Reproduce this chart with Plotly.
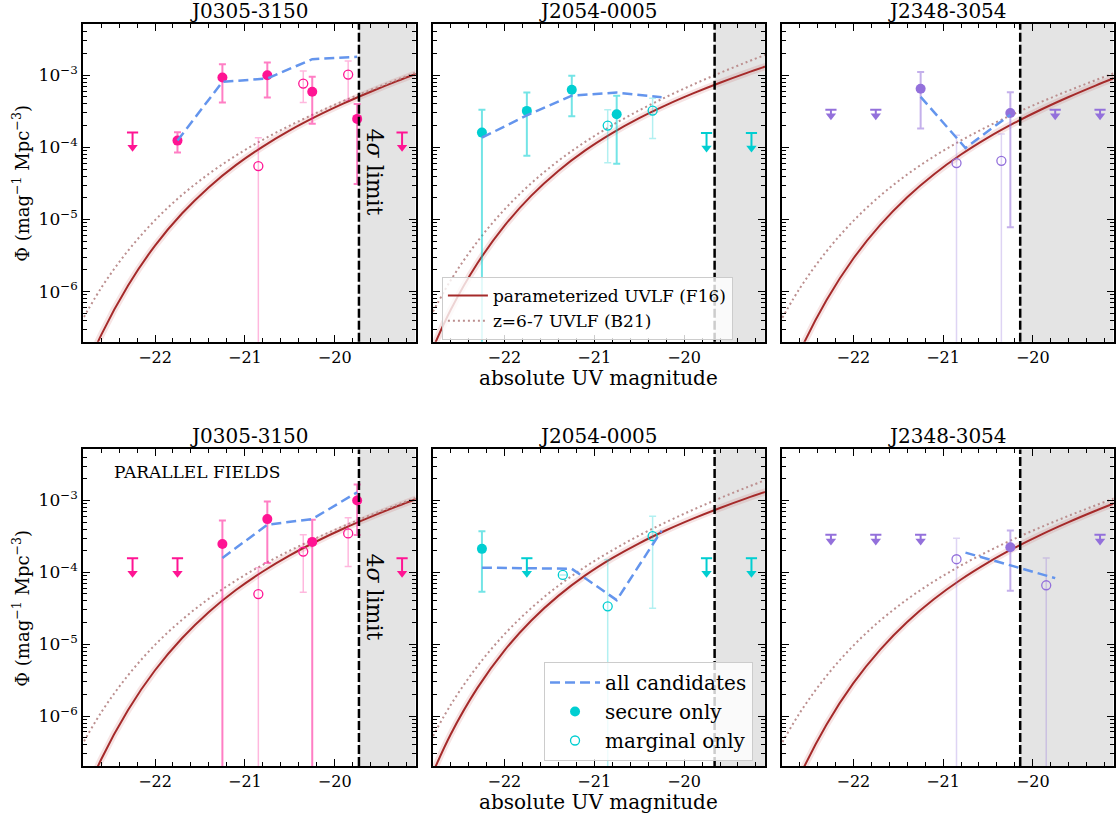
import plotly.graph_objects as go
from plotly.subplots import make_subplots

W, H = 1116, 817
FONT = "DejaVu Serif"

# ---------------- data ----------------
fields = ["J0305-3150", "J2054-0005", "J2348-3054"]
field_rgb = [(255, 20, 147), (0, 206, 209), (147, 112, 219)]
limit_mag = [-19.73, -19.66, -20.14]          # 4 sigma limit per field
x_range = [-22.8, -19.1]
y_range_log = [-6.695, -2.29]

# model curves (log10 Phi) read along the grid below
model_mag = [-22.9, -22.6, -22.3, -22.0, -21.7, -21.4, -21.1, -20.8, -20.5, -20.2, -19.9, -19.6, -19.3, -19.0]
f16_log_j0305 = [-7.478, -6.604, -5.915, -5.363, -4.918, -4.552, -4.247, -3.989, -3.765, -3.568, -3.391, -3.229, -3.078, -2.937]
f16_log_j2054 = [-7.087, -6.260, -5.608, -5.089, -4.670, -4.328, -4.043, -3.803, -3.596, -3.415, -3.253, -3.105, -2.968, -2.840]
f16_log_j2348 = [-7.759, -6.843, -6.120, -5.542, -5.075, -4.691, -4.372, -4.100, -3.865, -3.658, -3.472, -3.302, -3.144, -2.995]
b21_log_j0305 = [-6.597, -5.951, -5.433, -5.010, -4.661, -4.367, -4.115, -3.895, -3.699, -3.521, -3.357, -3.204, -3.059, -2.920]
b21_log_j2054 = [-6.525, -5.849, -5.306, -4.863, -4.497, -4.188, -3.924, -3.694, -3.488, -3.302, -3.130, -2.969, -2.817, -2.671]
b21_log_j2348 = [-6.607, -5.961, -5.443, -5.020, -4.671, -4.377, -4.125, -3.905, -3.709, -3.531, -3.367, -3.214, -3.069, -2.930]

# --- quasar fields (top row) ---
q0305_ul_x = [-22.25, -19.25]
q0305_ul = [1.6e-4, 1.6e-4]
q0305_sec_x = [-21.75, -21.25, -20.75, -20.25, -19.75]
q0305_sec_y = [1.24e-4, 9.3e-4, 1.0e-3, 5.9e-4, 2.48e-4]
q0305_sec_hi = [1.62e-4, 1.42e-3, 1.5e-3, 9.5e-4, 4.0e-4]
q0305_sec_lo = [8.5e-5, 4.2e-4, 4.9e-4, 2.13e-4, 3.1e-5]
q0305_mar_x = [-20.85, -20.35, -19.85]
q0305_mar_y = [5.5e-5, 7.66e-4, 1.02e-3]
q0305_mar_hi = [1.36e-4, 1.14e-3, 1.58e-3]
q0305_mar_lo = [1e-9, 4.2e-4, 4.5e-4]
q0305_all_x = [-21.75, -21.25, -20.75, -20.25, -19.75]
q0305_all_y = [1.24e-4, 8.1e-4, 9.0e-4, 1.67e-3, 1.8e-3]

q2054_ul_x = [-19.75, -19.25]
q2054_ul = [1.58e-4, 1.58e-4]
q2054_sec_x = [-22.25, -21.75, -21.25, -20.75]
q2054_sec_y = [1.6e-4, 3.2e-4, 6.3e-4, 2.87e-4]
q2054_sec_hi = [3.33e-4, 5.75e-4, 9.8e-4, 5.17e-4]
q2054_sec_lo = [1e-9, 7.66e-5, 2.7e-4, 5.9e-5]
q2054_mar_x = [-20.85, -20.35]
q2054_mar_y = [2.0e-4, 3.23e-4]
q2054_mar_hi = [3.33e-4, 4.8e-4]
q2054_mar_lo = [6.1e-5, 1.33e-4]
q2054_all_x = [-22.25, -21.75, -21.25, -20.75, -20.25]
q2054_all_y = [1.36e-4, 2.78e-4, 5.2e-4, 5.75e-4, 4.95e-4]

q2348_ul_x = [-22.25, -21.75, -19.75, -19.25]
q2348_ul = [3.33e-4, 3.33e-4, 3.33e-4, 3.33e-4]
q2348_sec_x = [-21.25, -20.25]
q2348_sec_y = [6.5e-4, 3.0e-4]
q2348_sec_hi = [1.11e-3, 5.8e-4]
q2348_sec_lo = [1.82e-4, 7.8e-6]
q2348_mar_x = [-20.85, -20.35]
q2348_mar_y = [6.05e-5, 6.5e-5]
q2348_mar_hi = [1.47e-4, 1.53e-4]
q2348_mar_lo = [1e-9, 1e-9]
q2348_all_x = [-21.25, -20.75, -20.25]
q2348_all_y = [5.0e-4, 9.8e-5, 2.84e-4]

# --- parallel fields (bottom row) ---
p0305_ul_x = [-22.25, -21.75, -19.25]
p0305_ul = [1.57e-4, 1.57e-4, 1.57e-4]
p0305_sec_x = [-21.25, -20.75, -20.25, -19.75]
p0305_sec_y = [2.48e-4, 5.5e-4, 2.65e-4, 1.0e-3]
p0305_sec_hi = [5.26e-4, 9.7e-4, 5.37e-4, 1.67e-3]
p0305_sec_lo = [1e-9, 1.35e-4, 1e-9, 3.3e-4]
p0305_mar_x = [-20.85, -20.35, -19.85]
p0305_mar_y = [4.98e-5, 1.94e-4, 3.47e-4]
p0305_mar_hi = [1.16e-4, 3.32e-4, 5.73e-4]
p0305_mar_lo = [1e-9, 5.26e-5, 1.2e-4]
p0305_all_x = [-21.25, -20.75, -20.25, -19.75]
p0305_all_y = [1.58e-4, 4.6e-4, 5.5e-4, 1.3e-3]

p2054_ul_x = [-21.75, -19.75, -19.25]
p2054_ul = [1.57e-4, 1.57e-4, 1.57e-4]
p2054_sec_x = [-22.25]
p2054_sec_y = [2.12e-4]
p2054_sec_hi = [3.73e-4]
p2054_sec_lo = [5.37e-5]
p2054_mar_x = [-21.35, -20.85, -20.35]
p2054_mar_y = [9.2e-5, 3.36e-5, 3.18e-4]
p2054_mar_hi = [None, 1.49e-4, 6.04e-4]
p2054_mar_lo = [None, 1e-9, 3.15e-5]
p2054_all_x = [-22.25, -21.25, -20.75, -20.25]
p2054_all_y = [1.16e-4, 1.12e-4, 4.1e-5, 3.8e-4]

p2348_ul_x = [-22.25, -21.75, -21.25, -19.25]
p2348_ul = [3.32e-4, 3.32e-4, 3.32e-4, 3.32e-4]
p2348_sec_x = [-20.25]
p2348_sec_y = [2.23e-4]
p2348_sec_hi = [3.81e-4]
p2348_sec_lo = [5.55e-5]
p2348_mar_x = [-20.85, -19.85]
p2348_mar_y = [1.52e-4, 6.6e-5]
p2348_mar_hi = [2.98e-4, 1.58e-4]
p2348_mar_lo = [1e-9, 1e-9]
p2348_all_x = [-20.75, -20.25, -19.75]
p2348_all_y = [1.88e-4, 1.26e-4, 8.3e-5]

UL_ARROW = 6e-5   # length of upper-limit arrow (style)

f16_logs = [f16_log_j0305, f16_log_j2054, f16_log_j2348]
b21_logs = [b21_log_j0305, b21_log_j2054, b21_log_j2348]

panels = [
    dict(ul_x=q0305_ul_x, ul=q0305_ul, sx=q0305_sec_x, sy=q0305_sec_y, shi=q0305_sec_hi, slo=q0305_sec_lo,
         mx=q0305_mar_x, my=q0305_mar_y, mhi=q0305_mar_hi, mlo=q0305_mar_lo, ax=q0305_all_x, ay=q0305_all_y),
    dict(ul_x=q2054_ul_x, ul=q2054_ul, sx=q2054_sec_x, sy=q2054_sec_y, shi=q2054_sec_hi, slo=q2054_sec_lo,
         mx=q2054_mar_x, my=q2054_mar_y, mhi=q2054_mar_hi, mlo=q2054_mar_lo, ax=q2054_all_x, ay=q2054_all_y),
    dict(ul_x=q2348_ul_x, ul=q2348_ul, sx=q2348_sec_x, sy=q2348_sec_y, shi=q2348_sec_hi, slo=q2348_sec_lo,
         mx=q2348_mar_x, my=q2348_mar_y, mhi=q2348_mar_hi, mlo=q2348_mar_lo, ax=q2348_all_x, ay=q2348_all_y),
    dict(ul_x=p0305_ul_x, ul=p0305_ul, sx=p0305_sec_x, sy=p0305_sec_y, shi=p0305_sec_hi, slo=p0305_sec_lo,
         mx=p0305_mar_x, my=p0305_mar_y, mhi=p0305_mar_hi, mlo=p0305_mar_lo, ax=p0305_all_x, ay=p0305_all_y),
    dict(ul_x=p2054_ul_x, ul=p2054_ul, sx=p2054_sec_x, sy=p2054_sec_y, shi=p2054_sec_hi, slo=p2054_sec_lo,
         mx=p2054_mar_x, my=p2054_mar_y, mhi=p2054_mar_hi, mlo=p2054_mar_lo, ax=p2054_all_x, ay=p2054_all_y),
    dict(ul_x=p2348_ul_x, ul=p2348_ul, sx=p2348_sec_x, sy=p2348_sec_y, shi=p2348_sec_hi, slo=p2348_sec_lo,
         mx=p2348_mar_x, my=p2348_mar_y, mhi=p2348_mar_hi, mlo=p2348_mar_lo, ax=p2348_all_x, ay=p2348_all_y),
]

# ---------------- layout geometry (pixels) ----------------
col_px = [(83.3, 416.3), (433.3, 766.3), (783.0, 1115.5)]
row_px = [(24.0, 341.7), (449.4, 766.0)]

def xdom(c):
    return [col_px[c][0] / W, col_px[c][1] / W]

def ydom(r):
    return [1 - row_px[r][1] / H, 1 - row_px[r][0] / H]

fig = make_subplots(rows=2, cols=3)

def rgba(rgb, a):
    return "rgba(%d,%d,%d,%.3f)" % (rgb[0], rgb[1], rgb[2], a)

def err_arrays(y, hi, lo):
    plus = [None if h is None else h - v for v, h in zip(y, hi)]
    minus = [None if l is None else v - l for v, l in zip(y, lo)]
    return plus, minus

BLUE = "#6495ed"
F16C = "#a52a2a"
B21C = "#bc8f8f"

for i, p in enumerate(panels):
    r, c = i // 3, i % 3
    row, col = r + 1, c + 1
    rgb = field_rgb[c]
    col_full = rgba(rgb, 1)
    leg_main = (i == 1)
    leg_data = (i == 4)

    # F16 uncertainty band (wide translucent line) and curve
    fig.add_trace(go.Scatter(x=model_mag, y=[10 ** v for v in f16_logs[c]], mode="lines",
                             line=dict(color="rgba(178,34,34,0.12)", width=7, shape="spline"),
                             showlegend=False, hoverinfo="skip"), row=row, col=col)
    fig.add_trace(go.Scatter(x=model_mag, y=[10 ** v for v in f16_logs[c]], mode="lines",
                             name="parameterized UVLF (F16)",
                             line=dict(color=F16C, width=2, shape="spline"),
                             showlegend=leg_main, legend="legend", legendgroup="f16"), row=row, col=col)
    fig.add_trace(go.Scatter(x=model_mag, y=[10 ** v for v in b21_logs[c]], mode="lines",
                             name="z=6-7 UVLF (B21)",
                             line=dict(color=B21C, width=2, dash="2px,3px", shape="spline"),
                             showlegend=leg_main, legend="legend", legendgroup="b21"), row=row, col=col)

    # marginal error bars + markers
    mp, mm = err_arrays(p["my"], p["mhi"], p["mlo"])
    fig.add_trace(go.Scatter(x=p["mx"], y=p["my"], mode="markers", name="marginal only",
                             marker=dict(symbol="circle-open", size=9, color=col_full, line=dict(width=1.3, color=col_full)),
                             error_y=dict(type="data", symmetric=False, array=mp, arrayminus=mm,
                                          color=rgba(rgb, 0.3), thickness=1.5, width=3.5),
                             showlegend=leg_data, legend="legend2", legendgroup="mar", legendrank=3), row=row, col=col)
    # secure
    sp, sm = err_arrays(p["sy"], p["shi"], p["slo"])
    fig.add_trace(go.Scatter(x=p["sx"], y=p["sy"], mode="markers", name="secure only",
                             marker=dict(symbol="circle", size=10, color=col_full),
                             error_y=dict(type="data", symmetric=False, array=sp, arrayminus=sm,
                                          color=rgba(rgb, 0.55), thickness=2, width=3.5),
                             showlegend=leg_data, legend="legend2", legendgroup="sec", legendrank=2), row=row, col=col)
    # all candidates
    fig.add_trace(go.Scatter(x=p["ax"], y=p["ay"], mode="lines", name="all candidates",
                             line=dict(color=BLUE, width=2.5, dash="10px,5px"),
                             showlegend=leg_data, legend="legend2", legendgroup="all", legendrank=1), row=row, col=col)
    # upper limits: arrow with bar to the cap
    arrow_y = [u - UL_ARROW for u in p["ul"]]
    fig.add_trace(go.Scatter(x=p["ul_x"], y=arrow_y, mode="markers",
                             marker=dict(symbol="triangle-down", size=9, color=col_full),
                             error_y=dict(type="data", symmetric=False, array=[UL_ARROW] * len(arrow_y),
                                          arrayminus=[0] * len(arrow_y), color=col_full, thickness=2, width=0),
                             showlegend=False), row=row, col=col)
    fig.add_trace(go.Scatter(x=p["ul_x"], y=p["ul"], mode="markers",
                             marker=dict(symbol="line-ew-open", size=8, color=col_full, line=dict(width=2, color=col_full)),
                             showlegend=False), row=row, col=col)

    xa = "x" if i == 0 else "x%d" % (i + 1)
    ya = "y" if i == 0 else "y%d" % (i + 1)
    # shaded region beyond the 4 sigma limit and the limit line
    fig.add_shape(type="rect", xref=xa, yref=ya + " domain", x0=limit_mag[c], x1=x_range[1], y0=0, y1=1,
                  fillcolor="rgb(228,228,228)", line=dict(width=0), layer="below")
    fig.add_shape(type="line", xref=xa, yref=ya + " domain", x0=limit_mag[c], x1=limit_mag[c], y0=0, y1=1,
                  line=dict(color="black", width=2.5, dash="9px,3px"), layer="above")

    # title
    fig.add_annotation(text=fields[c], xref="paper", yref="paper",
                       x=(xdom(c)[0] + xdom(c)[1]) / 2, y=ydom(r)[1], xanchor="center", yanchor="bottom",
                       yshift=-1, showarrow=False, font=dict(size=20, color="black", family=FONT))

# axes
yt = [1e-6, 1e-5, 1e-4, 1e-3]
ytt = ["10<sup>\u22126</sup>", "10<sup>\u22125</sup>", "10<sup>\u22124</sup>", "10<sup>\u22123</sup>"]
yminor = [m * 10.0 ** e for e in range(-7, -2) for m in range(2, 10)]
for i in range(6):
    r, c = i // 3, i % 3
    fig.update_xaxes(row=r + 1, col=c + 1, domain=xdom(c), range=x_range, tickvals=[-22, -21, -20],
                     ticks="inside", ticklen=7, tickwidth=1.2, tickcolor="black",
                     showline=True, linewidth=2, linecolor="black", mirror="allticks",
                     showgrid=False, zeroline=False,
                     minor=dict(ticks="inside", ticklen=4, tickwidth=1, tickcolor="black", dtick=0.2, tick0=-23, showgrid=False),
                     tickfont=dict(size=16, color="black", family=FONT))
    fig.update_yaxes(row=r + 1, col=c + 1, domain=ydom(r), type="log", range=y_range_log,
                     tickvals=yt, ticktext=ytt if c == 0 else [""] * 4,
                     ticks="inside", ticklen=7, tickwidth=1.2, tickcolor="black",
                     showline=True, linewidth=2, linecolor="black", mirror="allticks",
                     showgrid=False, zeroline=False,
                     minor=dict(ticks="inside", ticklen=4, tickwidth=1, tickcolor="black", tickvals=yminor, showgrid=False),
                     tickfont=dict(size=17, color="black", family=FONT))

# axis labels
for r in range(2):
    fig.add_annotation(text="absolute UV magnitude", xref="paper", yref="paper",
                       x=(xdom(1)[0] + xdom(1)[1]) / 2, y=1 - (row_px[r][1] + 36) / H,
                       xanchor="center", yanchor="middle", showarrow=False,
                       font=dict(size=20, color="black", family=FONT))
    fig.add_annotation(text="\u03a6 (mag<sup>\u22121</sup> Mpc<sup>\u22123</sup>)", xref="paper", yref="paper",
                       x=21 / W, y=(ydom(r)[0] + ydom(r)[1]) / 2, textangle=-90,
                       xanchor="center", yanchor="middle", showarrow=False,
                       font=dict(size=18, color="black", family=FONT))
    # 4 sigma label in the J0305 panels
    xa = "x" if r == 0 else "x4"
    ya = "y" if r == 0 else "y4"
    fig.add_annotation(text="4<i>\u03c3</i> limit", xref=xa, yref=ya, x=-19.56, y=-4.34,
                       textangle=90, showarrow=False, xanchor="center", yanchor="middle",
                       font=dict(size=22, color="black", family=FONT))

fig.add_annotation(text="PARALLEL FIELDS", xref="x4 domain", yref="y4 domain", x=0.087, y=0.928,
                   xanchor="left", yanchor="middle", showarrow=False,
                   font=dict(size=17, color="black", family=FONT))

fig.update_layout(
    width=W, height=H, margin=dict(l=0, r=0, t=0, b=0),
    paper_bgcolor="white", plot_bgcolor="white",
    font=dict(family=FONT, color="black"),
    legend=dict(x=442.7 / W, y=1 - 277 / H, xanchor="left", yanchor="top",
                bgcolor="rgba(255,255,255,0.8)", bordercolor="#cccccc", borderwidth=1,
                font=dict(size=17, family=FONT, color="black"), tracegroupgap=0, itemwidth=40),
    legend2=dict(x=545 / W, y=1 - 662 / H, xanchor="left", yanchor="top",
                 bgcolor="rgba(255,255,255,0.8)", bordercolor="#cccccc", borderwidth=1,
                 font=dict(size=20, family=FONT, color="black"), tracegroupgap=0, itemwidth=50),
)

fig.write_html("out.html")
